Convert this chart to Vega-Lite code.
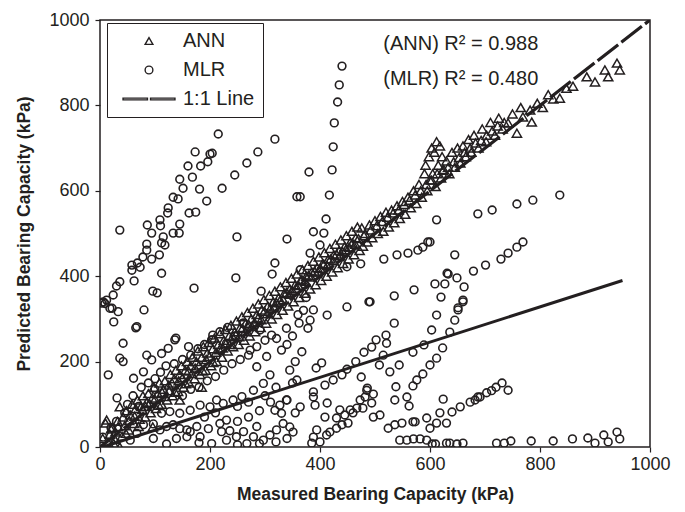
{
"$schema": "https://vega.github.io/schema/vega-lite/v6.json",
"width": 550, "height": 427,
"autosize": {"type": "none"},
"padding": {"left": 100, "top": 20, "right": 35, "bottom": 65},
"config": {
  "font": "Liberation Sans",
  "view": {"stroke": "#231f20", "strokeWidth": 1.5},
  "axis": {"grid": false, "domain": false, "tickColor": "#231f20", "tickSize": 5, "tickWidth": 1.2,
    "labelColor": "#231f20", "labelFontSize": 18, "labelFont": "Liberation Sans",
    "titleFontSize": 17.5, "titleFontWeight": "bold", "titleColor": "#231f20", "titleFont": "Liberation Sans"}
},
"datasets": {
  "mlr": [
    [3,337],[6,340],[9,336],[12,344],[18,325],[24,356],[30,377],[36,387],[58,414],[58,426],[62,389],[68,431],[73,421],[78,445],[85,461],[85,475],[94,440],[86,520],[94,501],[108,450],[109,532],[110,518],[112,478],[115,492],[118,473],[123,548],[124,560],[133,585],[142,581],[145,627],[151,606],[160,658],[168,632],[173,691],[181,604],[183,658],[196,668],[200,686],[204,688],[36,508],[22,325],[25,293],[33,317],[80,321],[65,279],
    [96,365],[104,361],[112,407],[133,501],[144,501],[145,522],[162,548],[174,550],[194,576],[215,733],[222,606],[245,637],[267,665],[287,691],[318,721],[171,372],[247,396],[249,492],[293,365],[313,405],[318,431],[340,487],[358,586],
    [364,586],[380,644],[388,504],[407,501],[411,534],[417,590],[422,649],[424,703],[426,759],[432,808],[435,848],[440,892],[400,473],[364,415],[382,454],
    [42,243],[67,282],[36,208],[42,200],[15,169],[61,161],[79,176],[94,204],[85,215],[112,219],[124,231],[136,251],[161,235],[203,251],[230,243],[261,290],[291,274],[273,227],[285,188],[303,212],[321,254],[339,278],[330,227],[309,169],[297,149],[279,133],[258,118],[242,110],[224,102],[212,110],[200,94],[182,98],[164,86],[145,79],[127,83],[112,79],[97,54],[79,52],[67,32],[55,16],[97,20],[121,7],[139,20],[158,24],[164,36],[176,48],[182,24],[197,43],[203,8],[230,16],[236,38],[248,24],[261,36],[267,8],[279,24],[285,48],[297,16],[309,28],[321,40],[333,55],[330,79],[339,110],[327,98],[318,86],[230,63],[218,55],[221,36],[145,43],[158,40],[133,52],[121,48],[109,40],[5,23],[31,115],[138,255],[204,251],[245,260],[260,290],
    [50,100],[60,120],[75,140],[88,150],[100,160],[110,175],[120,190],[135,195],[150,205],[165,215],[178,230],[190,240],[205,262],[218,270],[232,280],[150,120],[165,135],[180,140],[195,155],[210,165],[225,180],[240,195],[255,205],[270,215],[285,235],[300,250],[312,262],[100,135],[70,95],[45,80],[30,60],[20,45],[190,70],[210,80],[250,95],[270,105],[300,120],[320,140],[250,60],[270,70],[290,85],[310,105],[180,10],[250,5],[290,8],[320,12],[340,20],[350,150],[345,180],[355,200],[340,240],[350,260],[362,290],[370,320],[375,350],[372,380],[360,310],
    [449,328],[491,340],[413,309],[535,290],[520,262],[502,251],[494,234],[480,222],[465,200],[449,182],[440,169],[424,157],[409,145],[388,129],[393,185],[403,197],[475,164],[486,138],[497,124],[508,192],[515,215],[521,243],[527,176],[544,192],[538,141],[536,110],[558,117],[562,96],[569,143],[576,157],[587,171],[600,192],[612,208],[623,232],[569,222],[589,239],[603,274],[636,269],[645,297],[651,321],[660,340],[612,309],[624,112],[618,80],[612,56],[594,68],[569,59],[545,16],[558,16],[570,19],[582,19],[594,16],[604,7],[610,7],[630,9],[636,9],[649,7],[660,9],[600,44],[630,56],[640,82],[655,94],[687,117],
    [388,321],[382,297],[378,278],[367,223],[358,157],[340,110],[391,98],[394,40],[412,28],[345,47],[351,35],[388,23],[385,9],[400,12],[418,35],[430,44],[440,52],[451,56],[460,80],[467,91],[478,91],[494,103],[497,70],[509,75],[524,44],[536,52],[549,56],[573,59],[485,133],[482,117],[473,110],[455,87],[445,75],[430,68],[409,70],[364,94],[355,80],[436,87],[413,103],[388,117],
    [836,590],[787,578],[758,569],[713,555],[687,546],[612,532],[600,480],[769,480],[758,468],[742,454],[729,440],[701,426],[679,412],[633,405],[649,396],[627,382],[609,382],[662,375],[620,351],[660,344],[651,326],
    [474,429],[449,422],[516,440],[540,450],[560,454],[578,461],[587,468],[596,480],[631,407],[571,368],[535,354],[489,340],[645,450],
    [673,105],[682,110],[691,117],[703,127],[712,132],[720,140],[731,150],[742,133],[721,9],[735,9],[747,14],[784,14],[824,14],[859,19],[887,21],[900,9],[916,28],[924,12],[940,35],[945,19]
  ],
  "ann": [
    [5,20],[10,56],[12,63],[15,10],[18,30],[22,45],[25,8],[28,35],[32,60],[36,0],[36,94],[40,25],[42,70],[45,50],[48,85],[52,40],[55,75],[58,100],[62,55],[65,90],[68,110],[72,65],[75,95],[78,120],[82,70],[85,105],[88,125],[92,80],[95,115],[96,47],[98,140],[102,90],[105,125],[108,150],[112,100],[115,135],[118,155],[122,110],[125,145],[128,170],[132,120],[135,160],[138,180],[142,130],[145,110],[145,170],[148,190],[152,140],[155,180],[158,200],[162,150],[165,190],[168,210],[172,160],[175,200],[178,225],[182,170],[185,140],[185,210],[188,235],[192,180],[195,220],[198,245],[202,190],[205,230],[208,255],[212,200],[215,240],[218,265],[222,210],[225,250],[228,275],[232,225],[235,260],[238,285],[242,235],[245,270],[248,295],[252,240],[255,280],[258,305],[262,250],[265,290],[268,315],[272,260],[275,300],[278,325],[282,270],[285,310],[288,335],[292,280],[294,321],[298,345],[302,290],[305,330],[308,355],[312,300],[315,340],[318,365],[322,310],[325,350],[328,375],[332,320],[335,360],[338,385],[342,330],[345,370],[348,395],[352,340],[355,380],[358,405],[362,350],[365,390],[368,415],[372,360],[375,400],[378,425],[382,370],[385,410],[388,435],[392,380],[395,420],[398,445],[402,390],[405,430],[408,455],[412,400],[415,440],[418,465],[422,410],[425,450],[428,475],[432,420],[435,460],[438,485],[442,430],[445,470],[448,495],[452,440],[455,480],[458,505],[462,450],[465,490],[468,515],[472,460],[476,513],[478,470],[482,500],[486,480],[490,520],[495,490],[500,530],[505,500],[510,540],[515,505],[520,550],[525,515],[530,555],[535,525],[540,565],[545,535],[550,575],[555,545],[560,585],[565,560],[570,600],[575,570],[580,615],[585,585],[590,640],[592,660],[595,600],[598,680],[600,625],[603,700],[605,640],[608,690],[610,610],[612,715],[615,660],[618,705],[620,630],[622,680],[625,650],[630,670],[635,640],[640,690],[645,655],[650,700],[655,665],[660,705],[665,680],[670,720],[675,690],[680,730],[688,700],[695,745],[702,715],[710,760],[718,730],[725,770],[732,745],[742,759],[750,780],[758,735],[765,795],[769,773],[782,789],[785,761],[795,805],[805,795],[815,825],[824,815],[836,817],[848,840],[860,845],[885,867],[900,855],[918,883],[924,867],[940,899],[945,883],
    [20,42],[27,18],[33,48],[47,32],[53,62],[63,72],[70,48],[77,88],[83,95],[90,102],[100,112],[107,98],[113,128],[119,118],[126,132],[131,150],[137,128],[143,155],[150,162],[156,148],[161,178],[167,172],[173,185],[180,192],[187,178],[193,205],[199,212],[206,198],[211,222],[217,228],[223,232],[229,242],[236,240],[241,258],[247,262],[253,258],[259,278],[264,270],[270,288],[276,282],[281,292],[287,302],[293,298],[299,318],[304,312],[310,325],[316,328],[321,338],[327,342],[333,345],[339,362],[344,358],[350,366],[356,372],[361,378],[367,392],[373,388],[379,402],[384,398],[390,412],[396,410],[401,418],[407,428],[413,425],[419,440],[424,436],[430,452],[436,448],[441,458],[447,462],[453,468],[459,478],[464,475],[470,488],[480,495],[492,508],[503,518],[513,528],[523,538],[533,548],[543,555],[553,568],[563,578],[573,590],[583,600],[593,615],[603,625],[613,640],[623,648],[633,655],[643,668],[653,678],[663,690],[673,700],[683,712],[693,718],[703,730],[713,740],[723,752],[735,760]
  ]
},
"layer": [
  {
    "data": {"name": "mlr"},
    "transform": [{"calculate": "datum[0]", "as": "m"}, {"calculate": "datum[1]", "as": "p"}, {"calculate": "'MLR'", "as": "s"}],
    "mark": {"type": "point", "filled": false, "size": 60, "strokeWidth": 1.6, "opacity": 1, "color": "#231f20", "clip": true},
    "encoding": {
      "x": {"field": "m", "type": "quantitative", "scale": {"domain": [0, 1000], "nice": false},
        "axis": {"values": [0,200,400,600,800,1000], "format": "d", "title": "Measured Bearing Capacity (kPa)", "labelPadding": 3, "titlePadding": 12, "labelFlush": false}},
      "y": {"field": "p", "type": "quantitative", "scale": {"domain": [0, 1000], "nice": false},
        "axis": {"values": [0,200,400,600,800,1000], "format": "d", "title": "Predicted Bearing Capacity (kPa)", "labelPadding": 6, "titlePadding": 15, "labelFlush": false}},
      "shape": {"field": "s", "type": "nominal",
        "scale": {"domain": ["ANN", "MLR", "1:1 Line"], "range": ["triangle-up", "circle", "M-6.7,-0.22H-0.4V0.22H-6.7ZM0.4,-0.22H6.7V0.22H0.4Z"]},
        "legend": {"title": null, "orient": "none", "legendX": 7, "legendY": 3, "padding": 8,
          "strokeColor": "#231f20", "fillColor": "white", "cornerRadius": 0,
          "labelFontSize": 20, "labelColor": "#231f20", "labelOffset": 24, "rowPadding": 9, "symbolOffset": 24,
          "symbolSize": 60, "symbolStrokeWidth": 1.4, "symbolStrokeColor": "#231f20", "symbolOpacity": 1}}
    }
  },
  {
    "data": {"name": "ann"},
    "transform": [{"calculate": "datum[0]", "as": "m"}, {"calculate": "datum[1]", "as": "p"}, {"calculate": "'ANN'", "as": "s"}],
    "mark": {"type": "point", "filled": false, "size": 85, "strokeWidth": 1.5, "opacity": 1, "color": "#231f20", "clip": true},
    "encoding": {
      "x": {"field": "m", "type": "quantitative"},
      "y": {"field": "p", "type": "quantitative"},
      "shape": {"field": "s", "type": "nominal"}
    }
  },
  {
    "data": {"values": [{"m": 5, "p": 0}, {"m": 950, "p": 390}]},
    "mark": {"type": "line", "color": "#231f20", "strokeWidth": 3, "clip": true},
    "encoding": {"x": {"field": "m", "type": "quantitative"}, "y": {"field": "p", "type": "quantitative"}}
  },
  {
    "data": {"values": [{"m": 0, "p": 0}, {"m": 1000, "p": 1000}]},
    "mark": {"type": "line", "color": "#231f20", "strokeWidth": 3.2, "strokeDash": [26, 4], "clip": true},
    "encoding": {"x": {"field": "m", "type": "quantitative"}, "y": {"field": "p", "type": "quantitative"}}
  },
  {
    "data": {"values": [{"m": 515, "p": 944, "t": "(ANN) R² = 0.988"}, {"m": 515, "p": 862, "t": "(MLR) R² = 0.480"}]},
    "mark": {"type": "text", "align": "left", "baseline": "middle", "fontSize": 20, "font": "Liberation Sans", "color": "#231f20"},
    "encoding": {"x": {"field": "m", "type": "quantitative"}, "y": {"field": "p", "type": "quantitative"}, "text": {"field": "t"}}
  }
]
}
